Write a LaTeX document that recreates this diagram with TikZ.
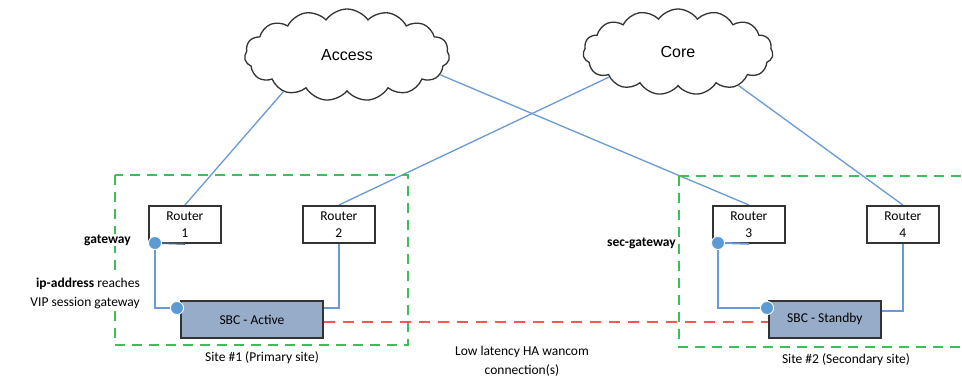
\documentclass[tikz,border=0pt]{standalone}
\usepackage{fontspec}
\setmainfont{Carlito}
\newfontfamily\arialfont{Liberation Sans}
\usetikzlibrary{shapes.symbols,backgrounds}
\definecolor{linkblue}{HTML}{6A9AD6}
\definecolor{dotblue}{HTML}{5B9BD5}
\definecolor{sitegreen}{HTML}{3DBE5A}
\definecolor{hared}{HTML}{FF5555}
\definecolor{sbcfill}{HTML}{96ACC9}
\definecolor{boxdark}{HTML}{333333}
\tikzset{
  netcloud/.style={cloud, cloud puffs=15, cloud puff arc=110, aspect=2.2, draw=boxdark, line width=1.3pt, fill=white, font=\arialfont\fontsize{16}{18}\selectfont},
  router/.style={draw=boxdark, line width=1.8pt, fill=white, minimum width=72pt, minimum height=37pt, inner sep=0pt, align=center, font=\fontsize{13.5}{17}\selectfont, anchor=north west},
  sbc/.style={draw=boxdark, line width=1.8pt, fill=sbcfill, minimum height=37pt, inner sep=0pt, font=\fontsize{13.5}{15}\selectfont, anchor=north west},
  link/.style={draw=linkblue, line width=1.3pt},
  sitebox/.style={draw=sitegreen, dash pattern=on 10pt off 7pt, line width=1.8pt},
  halink/.style={draw=hared, dash pattern=on 11pt off 8pt, line width=2.3pt},
  gwdot/.style={circle, fill=dotblue, draw=white, line width=0.8pt, minimum size=13pt, inner sep=0pt},
  lbl/.style={font=\fontsize{13.5}{19}\selectfont, inner sep=1pt}
}
\begin{document}
\begin{tikzpicture}[x=1pt,y=-1pt]
\useasboundingbox (0,0) rectangle (962,379);
% site boxes
\draw[sitebox] (115,175) rectangle (408,345);
\draw[sitebox] (679,176) -- (968,176);
\draw[sitebox] (679,176) -- (679,347) -- (968,347);
% clouds
\node[netcloud, minimum width=205pt, minimum height=92pt] (access) at (347,55) {Access};
\node[netcloud, minimum width=190pt, minimum height=86pt] (core) at (678,52) {Core};
% routers
\node[router] (r1) at (148,205) {Router\\1};
\node[router] (r2) at (302,205) {Router\\2};
\node[router] (r3) at (712,205) {Router\\3};
\node[router] (r4) at (866,205) {Router\\4};
% SBCs
\node[sbc, minimum width=142pt] (sbc1) at (180,300) {SBC - Active};
\node[sbc, minimum width=112pt] (sbc2) at (768,300) {SBC - Standby};
% white page and cloud to router links, behind everything
\begin{pgfonlayer}{background}
\fill[white] (0,0) rectangle (962,379);
\draw[link] (access.210) -- (r1.north);
\draw[link] (access.348) -- (r3.north);
\draw[link] (core.200) -- (r2.north);
\draw[link] (core.331) -- (r4.north);
\end{pgfonlayer}
% HA link
\draw[halink] (sbc1.east |- 0,322) -- (sbc2.west |- 0,322);
% router-sbc links
\node[gwdot] (d1) at (155,243) {};
\node[gwdot] (d2) at (177,308) {};
\node[gwdot] (d3) at (718,243) {};
\node[gwdot] (d4) at (767,308) {};
\draw[draw=boxdark!60!linkblue, line width=2pt] (d1.east) -- (r1.south);
\draw[link, line width=2pt] (d3.east) -- (r3.south);
\draw[link] (d1.south) |- (d2.west);
\draw[link] (r2.south) |- (sbc1.east |- 0,308);
\draw[link] (d3.south) |- (d4.west);
\draw[link] (r4.south) |- (sbc2.east |- 0,311);
\node[gwdot] at (d1) {};
\node[gwdot] at (d2) {};
\node[gwdot] at (d3) {};
\node[gwdot] at (d4) {};
% labels
\node[lbl, anchor=east, fill=white] (gw) at (132,240) {\textbf{gateway}};
\node[lbl, anchor=east, align=right, fill=white] (ipa) at (141,293) {\textbf{ip-address} reaches\\VIP session gateway};
\node[lbl, anchor=east] (sgw) at (677,243) {\textbf{sec-gateway}};
\node[lbl] (s1) at (262,358) {Site \#1 (Primary site)};
\node[lbl] (s2) at (846,360) {Site \#2 (Secondary site)};
\node[lbl, align=center] (ha) at (522,361) {Low latency HA wancom\\connection(s)};
\end{tikzpicture}
\end{document}
